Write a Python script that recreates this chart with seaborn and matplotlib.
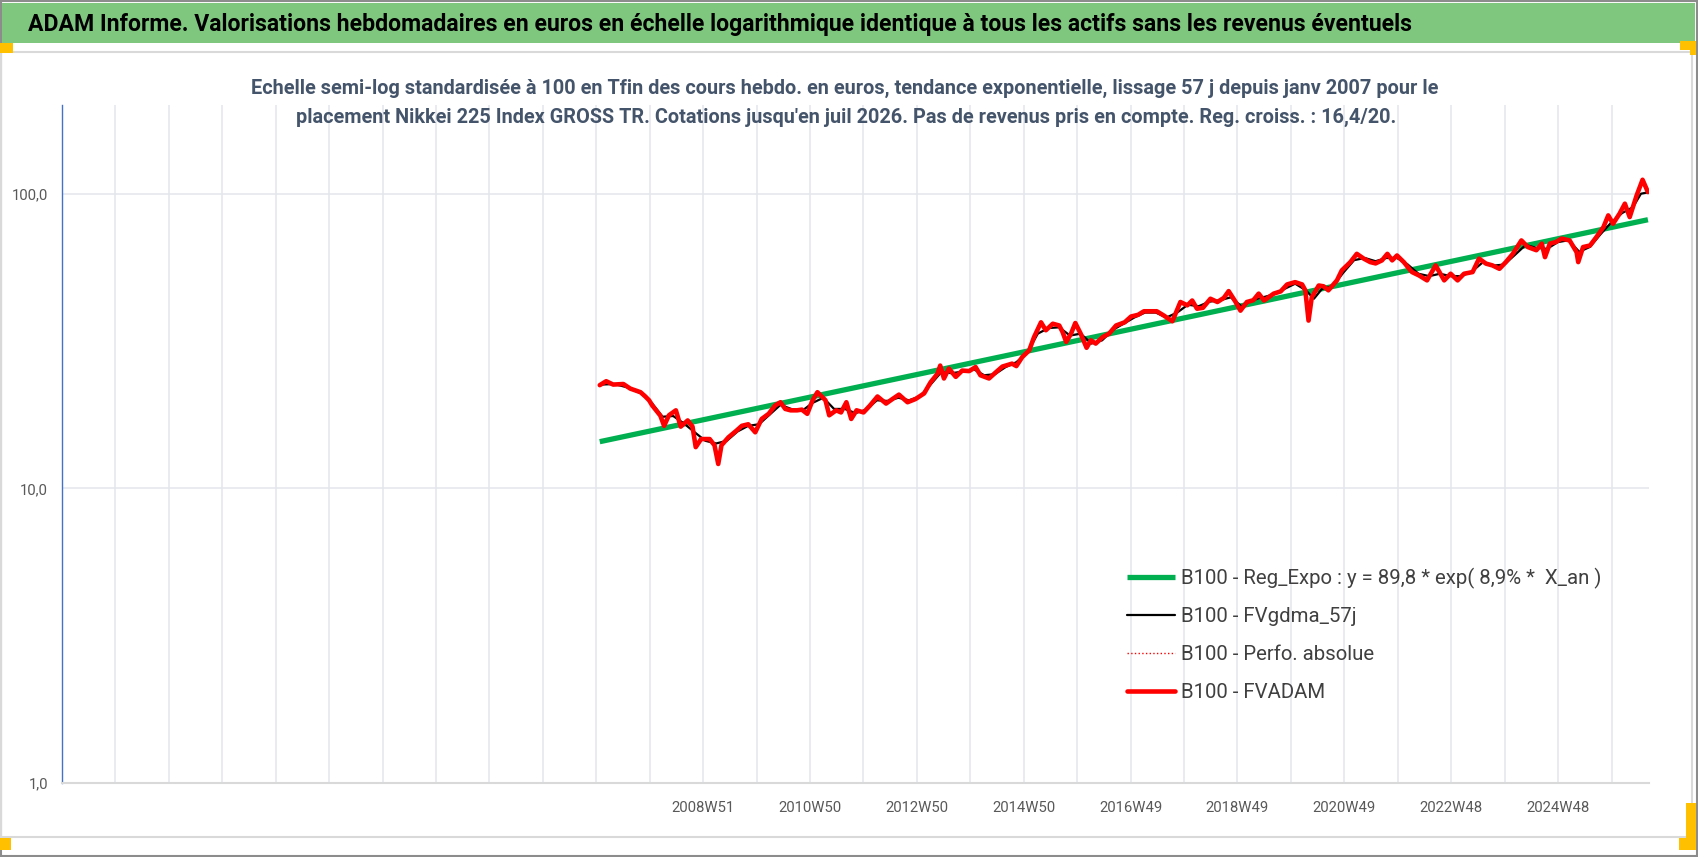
import matplotlib
matplotlib.use("Agg")
import matplotlib.pyplot as plt
from matplotlib import font_manager
from matplotlib.patches import Rectangle
from matplotlib.ticker import NullLocator
import numpy as np
import pandas as pd
import seaborn as sns

# ---------------- data ----------------
title_text = ("ADAM Informe. Valorisations hebdomadaires en euros en échelle logarithmique "
              "identique à tous les actifs sans les revenus éventuels")
subtitle_lines = [
    "Echelle semi-log standardisée à 100 en Tfin des cours hebdo. en euros, tendance exponentielle, "
    "lissage 57 j depuis janv 2007 pour le",
    "placement Nikkei 225 Index GROSS TR. Cotations jusqu'en juil 2026. Pas de revenus pris en compte. "
    "Reg. croiss. : 16,4/20.",
]
x_tick_labels = ["2008W51", "2010W50", "2012W50", "2014W50", "2016W49",
                 "2018W49", "2020W49", "2022W48", "2024W48"]
y_tick_values = [1, 10, 100]
y_tick_labels = ["1,0", "10,0", "100,0"]

series_names = ["B100 - Reg_Expo : y = 89,8 * exp( 8,9% *  X_an )",
                "B100 - FVgdma_57j",
                "B100 - Perfo. absolue",
                "B100 - FVADAM"]

trend_years = [2007.03, 2026.58]
trend_vals = [14.4, 81.6]

red_years = [
    2007.03, 2007.15, 2007.28, 2007.47, 2007.60, 2007.79, 2007.88, 2007.95, 2008.01, 2008.16,
    2008.23, 2008.32, 2008.45, 2008.54, 2008.67, 2008.76, 2008.82, 2008.92, 2009.08, 2009.17,
    2009.24, 2009.30, 2009.43, 2009.58, 2009.68, 2009.80, 2009.93, 2010.05, 2010.18, 2010.30,
    2010.40, 2010.49, 2010.59, 2010.71, 2010.80, 2010.90, 2011.00, 2011.09, 2011.18, 2011.24,
    2011.31, 2011.44, 2011.53, 2011.63, 2011.72, 2011.82, 2011.95, 2012.07, 2012.21, 2012.37,
    2012.49, 2012.61, 2012.77, 2012.92, 2013.08, 2013.20, 2013.33, 2013.38, 2013.45, 2013.54,
    2013.67, 2013.79, 2013.92, 2014.04, 2014.13, 2014.29, 2014.41, 2014.54, 2014.72, 2014.80,
    2014.91, 2015.04, 2015.13, 2015.26, 2015.35, 2015.48, 2015.60, 2015.66, 2015.73, 2015.82,
    2015.90, 2016.00, 2016.11, 2016.19, 2016.28, 2016.41, 2016.53, 2016.66, 2016.82, 2016.94,
    2017.07, 2017.18, 2017.42, 2017.55, 2017.71, 2017.86, 2017.99, 2018.08, 2018.17, 2018.28,
    2018.42, 2018.55, 2018.67, 2018.76, 2018.89, 2018.98, 2019.10, 2019.22, 2019.32, 2019.42,
    2019.60, 2019.73, 2019.85, 2020.00, 2020.13, 2020.19, 2020.25, 2020.31, 2020.44, 2020.53,
    2020.62, 2020.78, 2020.87, 2021.03, 2021.15, 2021.28, 2021.40, 2021.50, 2021.62, 2021.72,
    2021.81, 2021.90, 2022.03, 2022.14, 2022.18, 2022.31, 2022.46, 2022.62, 2022.78, 2022.90,
    2023.03, 2023.15, 2023.31, 2023.43, 2023.56, 2023.68, 2023.81, 2023.93, 2024.06, 2024.22,
    2024.34, 2024.50, 2024.60, 2024.66, 2024.75, 2024.86, 2024.97, 2025.12, 2025.25, 2025.28,
    2025.37, 2025.50, 2025.62, 2025.75, 2025.84, 2025.93, 2026.05, 2026.15, 2026.24, 2026.37,
    2026.48, 2026.58]
red_vals = [
    22.4, 23.1, 22.5, 22.6, 21.8, 21.2, 20.5, 19.9, 19.1, 17.65,
    16.3, 17.7, 18.4, 16.2, 17.0, 16.2, 13.8, 14.7, 14.7, 14.0,
    12.1, 14.0, 14.9, 15.7, 16.3, 16.5, 15.5, 17.2, 17.9, 19.1,
    19.6, 18.6, 18.4, 18.4, 18.5, 17.9, 19.9, 21.2, 20.4, 19.9,
    17.7, 18.4, 18.1, 19.6, 17.2, 18.4, 18.1, 19.1, 20.5, 19.4,
    20.1, 20.8, 19.6, 20.1, 21.0, 22.9, 24.5, 26.1, 23.6, 25.5,
    23.9, 25.1, 25.0, 25.8, 24.2, 23.6, 24.7, 25.9, 26.5, 26.0,
    27.9, 29.4, 32.6, 36.6, 34.4, 36.2, 35.7, 34.0, 31.4, 33.5,
    36.4, 33.5, 30.0, 31.8, 31.0, 32.6, 33.5, 35.7, 36.6, 38.3,
    38.8, 39.9, 39.9, 38.6, 36.9, 42.9, 41.8, 43.4, 40.7, 41.0,
    44.0, 42.9, 44.3, 46.7, 42.9, 40.1, 42.9, 43.5, 45.8, 43.4,
    45.8, 46.6, 49.2, 50.1, 49.2, 47.0, 37.1, 44.5, 48.8, 48.5,
    47.0, 50.8, 54.9, 58.6, 62.5, 60.2, 58.6, 58.0, 59.4, 62.5,
    59.4, 61.7, 58.5, 55.2, 54.2, 52.8, 50.8, 57.1, 50.8, 53.5,
    50.8, 53.5, 54.2, 60.2, 57.9, 57.1, 55.6, 58.6, 62.5, 69.4,
    65.9, 64.3, 67.7, 60.9, 67.7, 68.5, 70.4, 69.4, 63.3, 58.6,
    65.9, 66.7, 71.3, 77.0, 84.4, 79.1, 85.5, 92.5, 83.3, 98.7,
    111.5, 101.3]

black_years = [
    2007.05, 2007.30, 2007.55, 2007.80, 2008.00, 2008.20, 2008.40, 2008.60, 2008.80, 2009.00,
    2009.20, 2009.40, 2009.60, 2009.80, 2010.00, 2010.20, 2010.40, 2010.60, 2010.80, 2011.00,
    2011.20, 2011.40, 2011.60, 2011.80, 2012.00, 2012.20, 2012.40, 2012.60, 2012.80, 2013.00,
    2013.20, 2013.40, 2013.60, 2013.80, 2014.00, 2014.20, 2014.40, 2014.60, 2014.80, 2015.00,
    2015.20, 2015.40, 2015.60, 2015.80, 2016.00, 2016.20, 2016.40, 2016.60, 2016.80, 2017.00,
    2017.20, 2017.40, 2017.60, 2017.80, 2018.00, 2018.20, 2018.40, 2018.60, 2018.80, 2019.00,
    2019.20, 2019.40, 2019.60, 2019.80, 2020.00, 2020.20, 2020.35, 2020.50, 2020.70, 2020.90,
    2021.10, 2021.30, 2021.50, 2021.70, 2021.90, 2022.10, 2022.30, 2022.50, 2022.70, 2022.90,
    2023.10, 2023.30, 2023.50, 2023.70, 2023.90, 2024.10, 2024.30, 2024.50, 2024.70, 2024.90,
    2025.10, 2025.30, 2025.50, 2025.70, 2025.90, 2026.10, 2026.30, 2026.45, 2026.58]
black_vals = [
    22.5, 22.6, 22.0, 21.0, 19.5, 17.5, 17.6, 16.6, 15.5, 14.5,
    14.2, 14.5, 15.6, 16.3, 16.5, 17.8, 19.2, 18.6, 18.3, 19.5,
    20.3, 18.6, 18.6, 18.0, 18.5, 19.9, 19.8, 20.3, 19.9, 20.5,
    22.5, 24.8, 24.6, 24.9, 25.4, 24.2, 24.4, 25.8, 26.8, 28.8,
    33.5, 35.0, 35.2, 33.0, 33.5, 31.0, 31.8, 34.5, 36.2, 38.0,
    39.5, 39.5, 38.0, 39.5, 42.0, 41.5, 43.0, 43.5, 44.5, 41.5,
    43.5, 44.5, 45.5, 47.5, 49.5, 47.0, 44.0, 47.5, 48.5, 54.0,
    59.5, 60.5, 59.0, 60.5, 60.5, 57.5, 53.5, 52.5, 53.5, 52.5,
    52.5, 54.5, 58.5, 57.0, 57.5, 62.0, 67.0, 65.5, 65.0, 68.5,
    69.5, 63.5, 66.0, 73.0, 80.0, 86.0, 90.0, 100.0, 101.0]

# ---------------- layout constants ----------------
W, H = 1698, 857
YEAR0 = 1997.0                 # first category gridline
STEP = 364.0 / 365.25          # 52 weeks, one gridline
N_GRID = 30
FIRST_LABEL = 12

sns.set_theme(style="white")
names = {f.name for f in font_manager.fontManager.ttflist}
main_font = "Liberation Sans Narrow" if "Liberation Sans Narrow" in names else "Roboto"
plt.rcParams["font.family"] = [main_font, "DejaVu Sans"]

fig = plt.figure(figsize=(W / 100, H / 100), dpi=100)
fig.patch.set_facecolor("white")


def prect(x0, y0, x1, y1, **kw):
    r = Rectangle((x0 / W, 1 - y1 / H), (x1 - x0) / W, (y1 - y0) / H,
                  transform=fig.transFigure, **kw)
    fig.add_artist(r)
    return r


# frame decorations
prect(0.5, 0.5, W - 1, H - 1, fill=False, edgecolor="#8C8C8C", lw=1.5, zorder=0)
prect(2, 3, 1695, 43, facecolor="#7FC77F", edgecolor="none", zorder=1)
prect(0.5, 52, 1692, 837, fill=False, edgecolor="#D9D9D9", lw=1.5, zorder=1)
orange = "#FFC000"
prect(0, 43, 13, 53, facecolor=orange, edgecolor="none", zorder=2)
prect(1680, 41, 1696, 50, facecolor=orange, edgecolor="none", zorder=2)
prect(1690, 41, 1696, 55, facecolor=orange, edgecolor="none", zorder=2)
prect(0, 838, 11, 850, facecolor=orange, edgecolor="none", zorder=2)
prect(1686, 803, 1696, 850, facecolor=orange, edgecolor="none", zorder=2)
prect(1679, 838, 1696, 850, facecolor=orange, edgecolor="none", zorder=2)

ax = fig.add_axes([62 / W, (H - 783) / H, (1649 - 62) / W, (783 - 105) / H])
ax.set_facecolor("none")

df_trend = pd.DataFrame({"year": trend_years, "value": trend_vals})
df_black = pd.DataFrame({"year": black_years, "value": black_vals})
df_red = pd.DataFrame({"year": red_years, "value": red_vals})

sns.lineplot(data=df_trend, x="year", y="value", ax=ax, color="#00B050", lw=3.8,
             label=series_names[0], errorbar=None, solid_capstyle="butt")
sns.lineplot(data=df_black, x="year", y="value", ax=ax, color="black", lw=1.6,
             label=series_names[1], errorbar=None)
sns.lineplot(data=df_red, x="year", y="value", ax=ax, color="#FF0000", lw=1.0,
             linestyle=":", label=series_names[2], errorbar=None)
sns.lineplot(data=df_red, x="year", y="value", ax=ax, color="#FF0000", lw=3.3,
             label=series_names[3], errorbar=None, solid_joinstyle="round")

ax.set_yscale("log")
ax.set_ylim(1, 200)
ax.set_xlim(YEAR0, 2026.60)
ax.set_yticks(y_tick_values)
ax.set_yticklabels(y_tick_labels)
ax.yaxis.set_minor_locator(NullLocator())
grid_pos = [YEAR0 + k * STEP for k in range(N_GRID)]
xlabels = [""] * N_GRID
for j, lab in enumerate(x_tick_labels):
    xlabels[FIRST_LABEL + 2 * j] = lab
ax.set_xticks(grid_pos)
ax.set_xticklabels(xlabels)
ax.xaxis.set_minor_locator(NullLocator())
ax.set_xlabel("")
ax.set_ylabel("")
ax.grid(True, color="#E3E6EC", lw=1.1)
ax.set_axisbelow(True)
for s in ("top", "right"):
    ax.spines[s].set_visible(False)
ax.spines["left"].set_color("#4472C4")
ax.spines["left"].set_linewidth(1.0)
ax.spines["bottom"].set_color("#D9D9D9")
ax.spines["bottom"].set_linewidth(1.5)
ax.tick_params(axis="x", direction="out", length=3.6, width=1.0, color="#D9D9D9",
               labelcolor="#595959", labelsize=12, pad=9)
ax.tick_params(axis="y", length=0, pad=10, labelcolor="#595959", labelsize=12)

fig.canvas.draw()
renderer = fig.canvas.get_renderer()


def text_width(s, size, weight="normal"):
    t = fig.text(0, 0, s, fontsize=size, weight=weight)
    w = t.get_window_extent(renderer).width
    t.remove()
    return w


# tick label size fitted to width of "2018W49" (~63 px)
tsize = 12 * 63 / text_width("2018W49", 12)
ax.tick_params(axis="both", labelsize=tsize)

# legend
lsize = 15 * 422 / text_width(series_names[0], 15)
em = lsize * 100 / 72
leg = ax.legend(loc="upper left",
                bbox_to_anchor=((1127 - 62) / (1649 - 62), (783 - (578 - em / 2)) / (783 - 105)),
                frameon=False, borderpad=0, borderaxespad=0,
                handlelength=48 / em, handletextpad=6 / em,
                labelspacing=(39 - em) / em, fontsize=lsize, labelcolor="#404040")

# title
tt = fig.text(28 / W, 1 - 24 / H, title_text, ha="left", va="center",
              weight="bold", color="black", fontsize=19)
tt.set_fontsize(19 * 1386 / text_width(title_text, 19, "bold"))

# subtitle
ssize = 15 * 1194 / text_width(subtitle_lines[0], 15, "bold")
fig.text(845 / W, 1 - 88 / H, subtitle_lines[0], ha="center", va="center",
         weight="bold", color="#44546A", fontsize=ssize)
fig.text(846 / W, 1 - 117 / H, subtitle_lines[1], ha="center", va="center",
         weight="bold", color="#44546A", fontsize=ssize)

fig.savefig("out.png", dpi=100, facecolor="white")
